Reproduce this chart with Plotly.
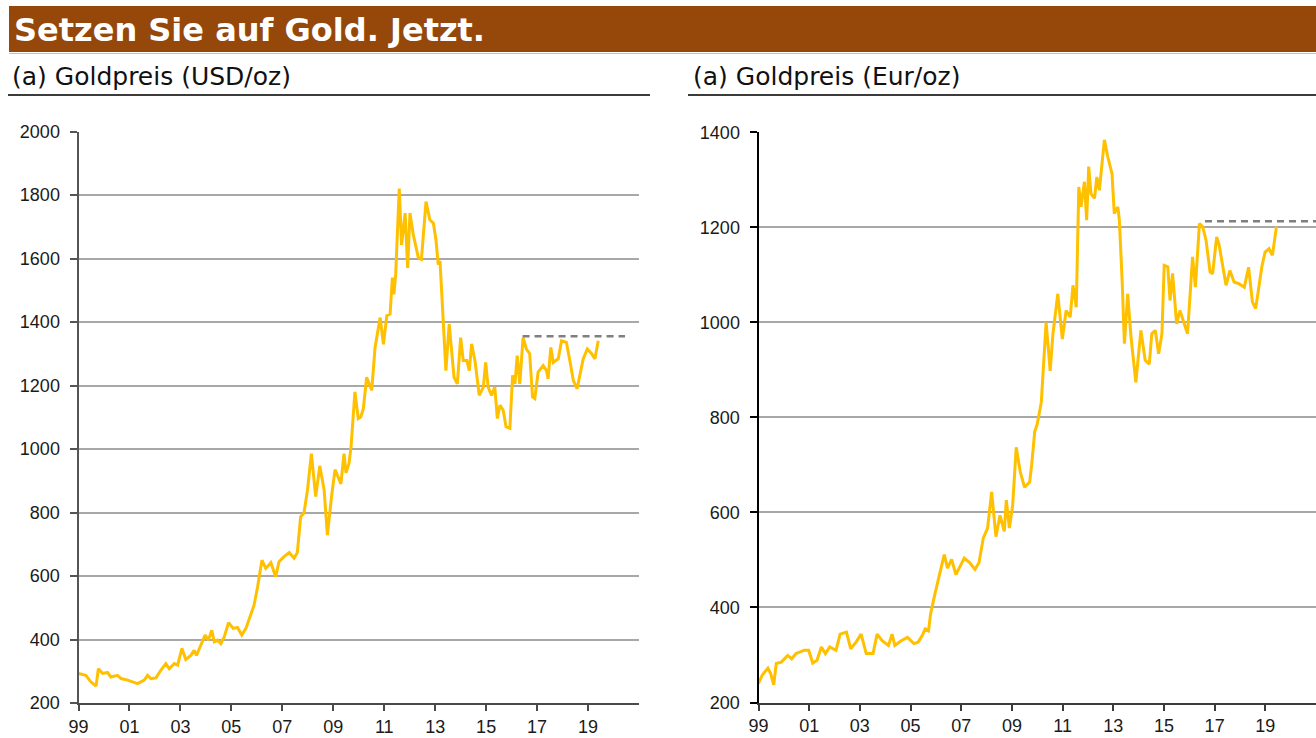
import plotly.graph_objects as go

# ---------------- data ----------------
usd_years = [1999.00, 1999.29, 1999.49, 1999.69, 1999.78, 1999.95, 2000.14, 2000.27, 2000.53, 2000.67,
             2000.93, 2001.19, 2001.32, 2001.58, 2001.71, 2001.84, 2002.04, 2002.23, 2002.43, 2002.56,
             2002.76, 2002.89, 2003.06, 2003.21, 2003.41, 2003.54, 2003.63, 2003.80, 2003.97, 2004.10,
             2004.23, 2004.33, 2004.46, 2004.59, 2004.72, 2004.89, 2005.07, 2005.24, 2005.41, 2005.57,
             2005.76, 2005.89, 2006.03, 2006.10, 2006.20, 2006.35, 2006.55, 2006.74, 2006.87, 2007.07,
             2007.27, 2007.46, 2007.59, 2007.72, 2007.85, 2007.99, 2008.14, 2008.31, 2008.47, 2008.64,
             2008.77, 2008.94, 2009.07, 2009.30, 2009.42, 2009.50, 2009.62, 2009.70, 2009.78, 2009.85,
             2009.98, 2010.08, 2010.18, 2010.31, 2010.51, 2010.64, 2010.84, 2010.97, 2011.10, 2011.23,
             2011.32, 2011.38, 2011.45, 2011.59, 2011.68, 2011.82, 2011.92, 2012.01, 2012.14, 2012.34,
             2012.46, 2012.64, 2012.79, 2012.93, 2013.03, 2013.12, 2013.19, 2013.32, 2013.42, 2013.55,
             2013.65, 2013.74, 2013.87, 2014.00, 2014.10, 2014.24, 2014.34, 2014.43, 2014.56, 2014.73,
             2014.89, 2014.98, 2015.08, 2015.21, 2015.34, 2015.44, 2015.54, 2015.67, 2015.78, 2015.93,
             2016.04, 2016.13, 2016.22, 2016.32, 2016.45, 2016.58, 2016.71, 2016.82, 2016.91, 2017.04,
             2017.24, 2017.37, 2017.43, 2017.54, 2017.63, 2017.83, 2017.96, 2018.15, 2018.31, 2018.42,
             2018.57, 2018.70, 2018.81, 2018.97, 2019.14, 2019.27, 2019.40]
usd_values = [293, 287, 266, 253, 308, 293, 296, 282, 287, 277,
              272, 266, 261, 272, 287, 277, 279, 303, 324, 308,
              324, 319, 372, 337, 350, 366, 350, 382, 414, 398,
              429, 393, 398, 387, 408, 453, 435, 438, 414, 435,
              482, 508, 566, 600, 650, 624, 642, 598, 645, 661,
              674, 656, 674, 787, 798, 872, 985, 850, 947, 872,
              729, 856, 935, 890, 985, 925, 955, 1010, 1100, 1180,
              1096, 1101, 1127, 1226, 1185, 1320, 1414, 1330, 1420, 1425,
              1540, 1487, 1550, 1820, 1643, 1743, 1570, 1743, 1675, 1602,
              1597, 1779, 1722, 1711, 1659, 1581, 1592, 1414, 1247, 1393,
              1310, 1226, 1205, 1351, 1279, 1279, 1247, 1331, 1279, 1169,
              1195, 1273, 1195, 1169, 1195, 1096, 1138, 1122, 1070, 1065,
              1232, 1205, 1294, 1205, 1351, 1315, 1300, 1164, 1159, 1242,
              1263, 1247, 1221, 1320, 1273, 1284, 1341, 1336, 1268, 1216,
              1190, 1237, 1284, 1315, 1300, 1284, 1341]

eur_years = [1999.00, 1999.15, 1999.37, 1999.48, 1999.60, 1999.70, 1999.90, 2000.15, 2000.31, 2000.48,
             2000.81, 2000.98, 2001.14, 2001.31, 2001.48, 2001.64, 2001.81, 2002.06, 2002.22, 2002.47,
             2002.64, 2002.85, 2003.05, 2003.25, 2003.52, 2003.68, 2003.88, 2004.13, 2004.27, 2004.38,
             2004.63, 2004.88, 2005.13, 2005.30, 2005.46, 2005.58, 2005.71, 2005.79, 2005.96, 2006.13,
             2006.33, 2006.46, 2006.62, 2006.79, 2006.91, 2007.12, 2007.34, 2007.54, 2007.70, 2007.87,
             2008.04, 2008.20, 2008.37, 2008.53, 2008.70, 2008.78, 2008.90, 2009.03, 2009.17, 2009.33,
             2009.50, 2009.70, 2009.78, 2009.90, 2010.00, 2010.16, 2010.35, 2010.51, 2010.62, 2010.81,
             2010.99, 2011.14, 2011.30, 2011.41, 2011.54, 2011.64, 2011.73, 2011.86, 2011.95, 2012.03,
             2012.12, 2012.26, 2012.35, 2012.45, 2012.65, 2012.78, 2012.95, 2013.04, 2013.18, 2013.24,
             2013.35, 2013.44, 2013.57, 2013.70, 2013.89, 2014.09, 2014.26, 2014.42, 2014.52, 2014.66,
             2014.79, 2014.92, 2015.01, 2015.15, 2015.24, 2015.34, 2015.50, 2015.63, 2015.76, 2015.93,
             2016.13, 2016.24, 2016.40, 2016.53, 2016.66, 2016.82, 2016.92, 2017.08, 2017.18, 2017.45,
             2017.60, 2017.77, 2017.97, 2018.17, 2018.34, 2018.49, 2018.62, 2018.75, 2018.86, 2018.99,
             2019.15, 2019.28, 2019.44]
eur_values = [240, 258, 272, 261, 237, 282, 285, 299, 292, 303,
              310, 310, 283, 289, 317, 303, 317, 310, 344, 348,
              313, 327, 344, 303, 303, 344, 330, 320, 344, 320,
              330, 337, 324, 327, 341, 355, 351, 386, 428, 469,
              511, 483, 501, 469, 483, 504, 494, 480, 494, 546,
              567, 643, 549, 594, 560, 626, 567, 615, 737, 685,
              653, 664, 700, 770, 786, 832, 1000, 898, 976, 1060,
              965, 1025, 1011, 1078, 1032, 1285, 1243, 1296, 1215, 1328,
              1271, 1261, 1306, 1278, 1384, 1349, 1313, 1229, 1243, 1215,
              1088, 955, 1060, 969, 874, 983, 920, 912, 976, 983,
              934, 976, 1120, 1117, 1046, 1103, 997, 1025, 1004, 976,
              1138, 1074, 1208, 1201, 1173, 1106, 1102, 1180, 1162, 1078,
              1109, 1085, 1081, 1074, 1116, 1043, 1029, 1081, 1116, 1148,
              1155, 1141, 1202]

# reference (previous high) dashed lines
usd_ref_years = [2016.43, 2020.45]
usd_ref_values = [1355, 1355]
eur_ref_years = [2016.62, 2021.0]
eur_ref_values = [1213, 1213]

tick_years = [1999, 2001, 2003, 2005, 2007, 2009, 2011, 2013, 2015, 2017, 2019]
tick_labels = ["99", "01", "03", "05", "07", "09", "11", "13", "15", "17", "19"]
usd_ticks = [200, 400, 600, 800, 1000, 1200, 1400, 1600, 1800, 2000]
eur_ticks = [200, 400, 600, 800, 1000, 1200, 1400]

title_text = "Setzen Sie auf Gold. Jetzt."
left_subtitle = "(a) Goldpreis (USD/oz)"
right_subtitle = "(a) Goldpreis (Eur/oz)"

# ---------------- styling ----------------
W, H = 1316, 738
GOLD = "#FFC000"
GRID = "#a8a8a8"
TICKFONT = dict(family="Liberation Sans, Arial, sans-serif", size=18, color="#1a1a1a")


def px_x(p):
    return p / W


def px_y(p):
    return (H - p) / H


fig = go.Figure()

fig.add_trace(go.Scatter(x=usd_years, y=usd_values, mode="lines",
                         line=dict(color=GOLD, width=3), xaxis="x", yaxis="y",
                         showlegend=False))
fig.add_trace(go.Scatter(x=usd_ref_years, y=usd_ref_values, mode="lines",
                         line=dict(color="#7f7f7f", width=2.5, dash="7px,5px"),
                         xaxis="x", yaxis="y", showlegend=False))
fig.add_trace(go.Scatter(x=eur_years, y=eur_values, mode="lines",
                         line=dict(color=GOLD, width=3), xaxis="x2", yaxis="y2",
                         showlegend=False))
fig.add_trace(go.Scatter(x=eur_ref_years, y=eur_ref_values, mode="lines",
                         line=dict(color="#7f7f7f", width=2.5, dash="7px,5px"),
                         xaxis="x2", yaxis="y2", showlegend=False))

xaxis_common = dict(range=[1999, 2021], tickmode="array", tickvals=tick_years, ticktext=tick_labels,
                    ticks="outside", ticklen=6, tickwidth=2, showline=True, linewidth=2,
                    showgrid=False, zeroline=False, tickfont=TICKFONT, fixedrange=True,
                    automargin=False)
yaxis_common = dict(ticks="outside", ticklen=7, tickwidth=2, showline=True, linewidth=2,
                    showgrid=True, gridcolor=GRID, gridwidth=2, zeroline=False,
                    tickfont=TICKFONT, ticklabelstandoff=6, fixedrange=True, automargin=False)

fig.update_layout(
    width=W, height=H, autosize=False,
    margin=dict(l=0, r=0, t=0, b=0, pad=0, autoexpand=False),
    paper_bgcolor="white", plot_bgcolor="white",
    xaxis=dict(domain=[px_x(78.5), px_x(639)], anchor="y", linecolor="#4a4a4a",
               tickcolor="#4a4a4a", **xaxis_common),
    yaxis=dict(domain=[px_y(703), px_y(131.5)], anchor="x", range=[200, 2000],
               tickmode="array", tickvals=usd_ticks, linecolor="#555555",
               tickcolor="#555555", **yaxis_common),
    xaxis2=dict(domain=[px_x(758.5), 1.0], anchor="y2", linecolor="#3a3a3a",
                tickcolor="#3a3a3a", **xaxis_common),
    yaxis2=dict(domain=[px_y(702.5), px_y(132.3)], anchor="x2", range=[200, 1400],
                tickmode="array", tickvals=eur_ticks, linecolor="#000000",
                tickcolor="#000000", **yaxis_common),
    shapes=[
        dict(type="rect", xref="paper", yref="paper", x0=px_x(9), x1=1.0,
             y0=px_y(52), y1=px_y(6), fillcolor="#96480a", line=dict(width=0), layer="below"),
        dict(type="line", xref="paper", yref="paper", x0=px_x(9), x1=1.0,
             y0=px_y(53.5), y1=px_y(53.5), line=dict(color="#e8b98c", width=1)),
        dict(type="line", xref="paper", yref="paper", x0=px_x(8), x1=px_x(650),
             y0=px_y(95), y1=px_y(95), line=dict(color="#3c3c3c", width=2)),
        dict(type="line", xref="paper", yref="paper", x0=px_x(688), x1=1.0,
             y0=px_y(95), y1=px_y(95), line=dict(color="#3c3c3c", width=2)),
    ],
    annotations=[
        dict(text="<b>" + title_text + "</b>", xref="paper", yref="paper",
             x=px_x(12), y=px_y(30), xanchor="left", yanchor="middle", showarrow=False,
             font=dict(family="DejaVu Sans, sans-serif", size=32, color="white")),
        dict(text=left_subtitle, xref="paper", yref="paper",
             x=px_x(10), y=px_y(76), xanchor="left", yanchor="middle", showarrow=False,
             font=dict(family="DejaVu Sans, sans-serif", size=25, color="#111111")),
        dict(text=right_subtitle, xref="paper", yref="paper",
             x=px_x(691), y=px_y(76), xanchor="left", yanchor="middle", showarrow=False,
             font=dict(family="DejaVu Sans, sans-serif", size=25, color="#111111")),
    ],
)

fig.write_html("out.html", config={"displayModeBar": False},
               post_script="document.body.style.margin='0';document.body.style.overflow='hidden';")
